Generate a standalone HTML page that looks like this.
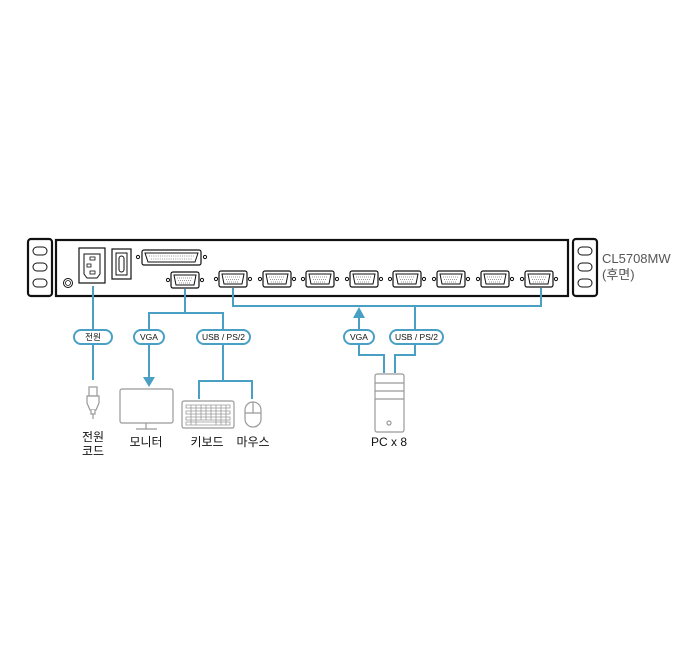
<!DOCTYPE html>
<html><head><meta charset="utf-8"><style>
html,body{margin:0;padding:0;background:#fff;}
svg{display:block;}
text{font-family:"Liberation Sans","Noto Sans CJK KR",sans-serif;}
</style></head><body>
<svg width="700" height="661" viewBox="0 0 700 661" xmlns="http://www.w3.org/2000/svg">
<defs>
<g id="vga">
<circle cx="-17" cy="0" r="1.6" fill="none" stroke="#111" stroke-width="1"/>
<circle cx="17" cy="0" r="1.6" fill="none" stroke="#111" stroke-width="1"/>
<rect x="-14" y="-8" width="28" height="16" rx="2" fill="#fff" stroke="#111" stroke-width="1.2"/>
<path d="M-11,-5 H11 L9,5 H-9 Z" fill="none" stroke="#111" stroke-width="1"/>
<path d="M-8,-2 H8 M-7,0.5 H7 M-6,3 H6" stroke="#777" stroke-width="0.8" stroke-dasharray="1 1"/>
</g>
<g id="ear">
<rect x="0" y="0" width="24" height="57" rx="3" fill="#fff" stroke="#111" stroke-width="2.2"/>
<rect x="5" y="8" width="14" height="8" rx="4" fill="none" stroke="#111" stroke-width="1"/>
<rect x="5" y="24" width="14" height="8" rx="4" fill="none" stroke="#111" stroke-width="1"/>
<rect x="5" y="40" width="14" height="8" rx="4" fill="none" stroke="#111" stroke-width="1"/>
</g>
</defs>
<!-- chassis -->
<use href="#ear" x="28" y="239"/>
<use href="#ear" x="573" y="239"/>
<rect x="56" y="240" width="512" height="56" fill="#fff" stroke="#111" stroke-width="2.2"/>
<!-- ground -->
<circle cx="68" cy="283" r="4.5" fill="none" stroke="#111" stroke-width="1"/>
<circle cx="68" cy="283" r="2.5" fill="none" stroke="#111" stroke-width="0.8"/>
<!-- power inlet -->
<rect x="79" y="248" width="26" height="35" fill="#fff" stroke="#111" stroke-width="1.2"/>
<path d="M84,254 H100 V274 L97,278 H87 L84,274 Z" fill="none" stroke="#111" stroke-width="1"/>
<rect x="90" y="257" width="5" height="3" fill="none" stroke="#111" stroke-width="0.8"/>
<rect x="87" y="264" width="4" height="3" fill="none" stroke="#111" stroke-width="0.8"/>
<rect x="90" y="271" width="5" height="3" fill="none" stroke="#111" stroke-width="0.8"/>
<!-- switch -->
<rect x="112" y="249" width="19" height="30" fill="#fff" stroke="#111" stroke-width="1.2"/>
<rect x="116" y="253" width="11" height="22" fill="none" stroke="#111" stroke-width="1"/>
<rect x="119" y="256" width="5" height="16" rx="2.5" fill="none" stroke="#111" stroke-width="1"/>
<!-- DB25 -->
<circle cx="138" cy="257" r="1.6" fill="none" stroke="#111" stroke-width="1"/>
<circle cx="205" cy="257" r="1.6" fill="none" stroke="#111" stroke-width="1"/>
<rect x="142" y="250" width="59" height="15" rx="2" fill="#fff" stroke="#111" stroke-width="1.2"/>
<path d="M145,253 H198 L195,262 H148 Z" fill="none" stroke="#111" stroke-width="1"/>
<path d="M149,256 H194 M151,259 H192" stroke="#777" stroke-width="0.8" stroke-dasharray="1 1.2"/>
<!-- VGA ports -->
<use href="#vga" x="185" y="280"/>
<use href="#vga" x="233" y="279"/>
<use href="#vga" x="277" y="279"/>
<use href="#vga" x="320" y="279"/>
<use href="#vga" x="364" y="279"/>
<use href="#vga" x="407" y="279"/>
<use href="#vga" x="451" y="279"/>
<use href="#vga" x="495" y="279"/>
<use href="#vga" x="539" y="279"/>
<!-- blue lines -->
<g stroke="#4aa0c4" stroke-width="2" fill="none">
<path d="M93,286 V380"/>
<path d="M185,289 V313 H149 V378"/>
<path d="M185,313 H223 V381 H199 V399 M223,381 H252 V399"/>
<path d="M233,288 V306 H541 V288"/>
<path d="M359,318 V355 H384 V373"/>
<path d="M415,306 V355 H395 V373"/>
</g>
<polygon points="143,377 155,377 149,387" fill="#4aa0c4"/>
<polygon points="353,318 365,318 359,307" fill="#4aa0c4"/>
<!-- pills -->
<g fill="#fff" stroke="#4aa0c4" stroke-width="2">
<rect x="74" y="330" width="38" height="14" rx="7"/>
<rect x="134" y="330" width="30" height="14" rx="7"/>
<rect x="197" y="330" width="53" height="14" rx="7"/>
<rect x="344" y="330" width="30" height="14" rx="7"/>
<rect x="390" y="330" width="53" height="14" rx="7"/>
</g>
<g font-size="8.5" text-anchor="middle" fill="#111">
<text x="93" y="340">전원</text>
<text x="149" y="340">VGA</text>
<text x="223.5" y="340">USB / PS/2</text>
<text x="359" y="340">VGA</text>
<text x="416.5" y="340">USB / PS/2</text>
</g>
<!-- icons grey -->
<g stroke="#999" stroke-width="1.2" fill="#fff">
<!-- plug -->
<rect x="89" y="387" width="8" height="9"/>
<path d="M87,396 H99 V403 L96,410 H90 L87,403 Z"/>
<path d="M91,410 V414 H95 V410 M93,414 V419"/>
<!-- monitor -->
<rect x="120" y="389" width="53" height="34" rx="2"/>
<path d="M146,423 V429 M136,429 H157"/>
<!-- keyboard -->
<rect x="182" y="401" width="52" height="27" rx="2"/>
<!-- mouse -->
<rect x="245" y="402" width="16" height="25" rx="8"/>
<path d="M245,413 H261 M253,402 V413"/>
<!-- PC -->
<rect x="375" y="374" width="29" height="58" rx="2"/>
<path d="M375,383 H404 M375,391 H404 M375,399 H404"/>
<circle cx="389" cy="423" r="2"/>
</g>
<g fill="none" stroke="#999" stroke-width="0.8">
<path d="M186,405 h44 v3 h-44z M186,411 h44 v3 h-44z M186,417 h44 v3 h-44z M186,422 h44 v3 h-44z"/>
<path d="M191,405v20 M196,405v20 M201,405v15 M216,405v20 M221,405v20 M226,405v20 M206,405v15 M211,405v15"/>
</g>
<!-- labels -->
<g font-size="12" text-anchor="middle" fill="#111">
<text x="93" y="441">전원</text>
<text x="93" y="455">코드</text>
<text x="146" y="446">모니터</text>
<text x="207" y="446">키보드</text>
<text x="253" y="446">마우스</text>
<text x="389" y="446">PC x 8</text>
</g>
<g font-size="13" fill="#555">
<text x="602" y="263">CL5708MW</text>
<text x="602" y="279">(후면)</text>
</g>
</svg>
</body></html>
